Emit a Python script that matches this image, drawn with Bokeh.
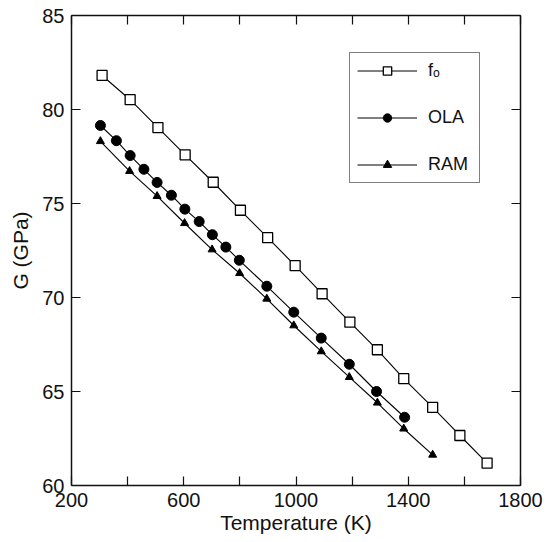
from bokeh.plotting import figure
from bokeh.models import (LinearAxis, FixedTicker, Range1d, Legend, LegendItem)
from bokeh.embed import file_html
from bokeh.resources import INLINE

# Data
T_fo = [309, 409, 508, 605, 705, 802, 899, 997, 1093, 1192, 1290, 1384, 1487, 1584, 1681]
G_fo = [81.81, 80.52, 79.04, 77.59, 76.13, 74.64, 73.18, 71.70, 70.20, 68.69, 67.22, 65.68, 64.16, 62.66, 61.19]

T_ola = [303, 360, 409, 458, 505, 556, 604, 655, 702, 750, 798, 896, 992, 1090, 1190, 1287, 1387]
G_ola = [79.15, 78.34, 77.55, 76.82, 76.12, 75.44, 74.70, 74.04, 73.34, 72.68, 71.98, 70.60, 69.22, 67.84, 66.45, 65.00, 63.63]

T_ram = [303, 407, 505, 603, 701, 799, 896, 992, 1090, 1190, 1290, 1384, 1487]
G_ram = [78.31, 76.72, 75.39, 73.95, 72.55, 71.29, 69.93, 68.51, 67.13, 65.76, 64.40, 63.02, 61.63]

labels = ["f\u2092", "OLA", "RAM"]
x_major = [200, 600, 1000, 1400, 1800]
x_minor = [400, 800, 1200, 1600]
y_major = [60, 65, 70, 75, 80, 85]

FONT = "Liberation Sans"

p = figure(width=554, height=542, output_backend="svg", toolbar_location=None,
           x_range=Range1d(200, 1800), y_range=Range1d(60, 85),
           x_axis_location=None, y_axis_location=None,
           min_border_left=71, min_border_right=34, min_border_top=15, min_border_bottom=57)
p.xgrid.visible = False
p.ygrid.visible = False
p.outline_line_color = None
p.background_fill_color = "white"
p.border_fill_color = "white"

xt = FixedTicker(ticks=x_major, minor_ticks=x_minor)
yt = FixedTicker(ticks=y_major, minor_ticks=[])

def style(ax, show_labels, ticks):
    ax.axis_line_width = 1.5
    ax.axis_line_color = "#111111"
    ax.major_tick_in = 9
    ax.major_tick_out = 0
    ax.minor_tick_in = 9
    ax.minor_tick_out = 0
    ax.major_tick_line_color = "#111111"
    ax.minor_tick_line_color = "#111111"
    ax.major_tick_line_width = 1.2
    ax.minor_tick_line_width = 1.2
    ax.major_label_text_font = FONT
    ax.major_label_text_color = "#111111"
    ax.major_label_text_font_size = "20px"
    ax.axis_label_text_font = FONT
    ax.axis_label_text_font_style = "normal"
    ax.axis_label_text_color = "#111111"
    ax.axis_label_text_font_size = "21px"
    if not show_labels:
        ax.major_label_overrides = {t: "" for t in ticks}
        ax.major_label_standoff = 0

xb = LinearAxis(ticker=xt, axis_label="Temperature (K)")
style(xb, True, x_major)
xb.major_label_standoff = 7
xb.axis_label_standoff = 1
p.add_layout(xb, "below")

yl = LinearAxis(ticker=yt, axis_label="G (GPa)")
style(yl, True, y_major)
yl.major_label_standoff = 7
yl.axis_label_standoff = 7
p.add_layout(yl, "left")

xa = LinearAxis(ticker=xt)
style(xa, False, x_major)
p.add_layout(xa, "above")

yr = LinearAxis(ticker=yt)
style(yr, False, y_major)
p.add_layout(yr, "right")

l1 = p.line(T_fo, G_fo, line_color="black", line_width=1.1)
m1 = p.scatter(T_fo, G_fo, marker="square", size=10, fill_color="white", line_color="black", line_width=1.3)
l2 = p.line(T_ola, G_ola, line_color="black", line_width=1.1)
m2 = p.scatter(T_ola, G_ola, marker="circle", size=10, fill_color="black", line_color="black")
l3 = p.line(T_ram, G_ram, line_color="black", line_width=1.1)
m3 = p.scatter(T_ram, G_ram, marker="triangle", size=8, fill_color="black", line_color="black")

legend = Legend(items=[LegendItem(label=labels[0], renderers=[l1, m1]),
                       LegendItem(label=labels[1], renderers=[l2, m2]),
                       LegendItem(label=labels[2], renderers=[l3, m3])],
                location=(278, 302), orientation="vertical",
                glyph_width=60, glyph_height=21, label_height=21, label_width=44,
                label_standoff=11, spacing=26, padding=7, margin=0,
                label_text_font=FONT, label_text_font_size="18px", label_text_color="#111111",
                border_line_color="black", border_line_width=1.2, background_fill_color="white",
                background_fill_alpha=1.0)
p.add_layout(legend, "center")

open("out.html", "w").write(file_html(p, INLINE))
